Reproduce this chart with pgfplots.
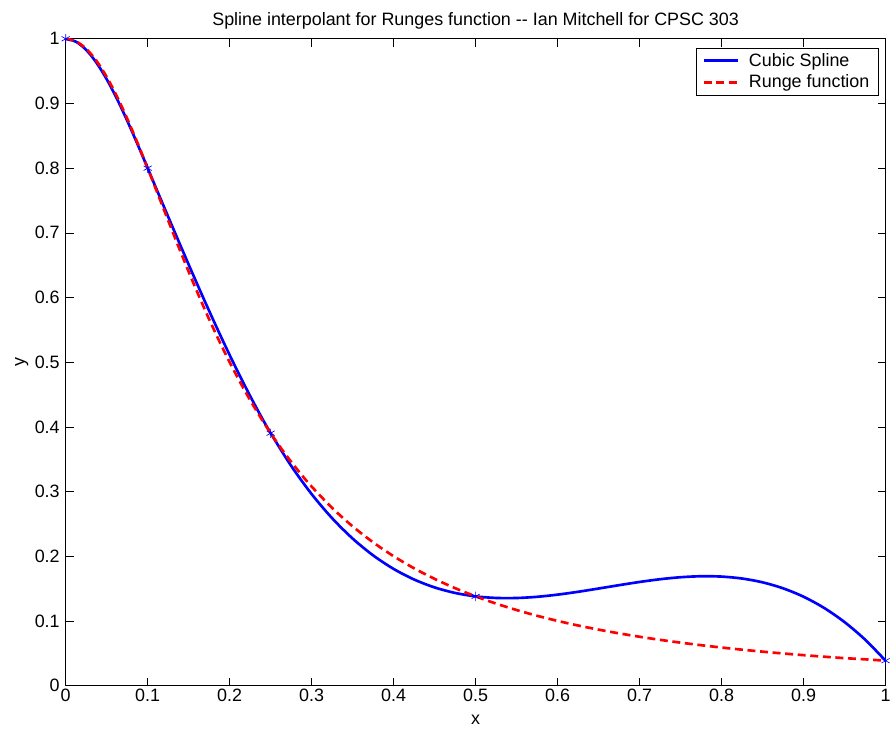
\documentclass[border=0pt]{standalone}
\usepackage{fontspec}
\setmainfont{Liberation Sans}
\usepackage{pgfplots}
\pgfplotsset{compat=1.18}

\pgfplotstableread{
x y
0 1
0.0125 0.99552
0.025 0.98285
0.0375 0.96315
0.05 0.93759
0.0625 0.90733
0.075 0.87353
0.0875 0.83737
0.1 0.8
0.1125 0.76242
0.125 0.72495
0.1375 0.68774
0.15 0.65095
0.1625 0.61474
0.175 0.57925
0.1875 0.54465
0.2 0.51108
0.2125 0.47870
0.225 0.44767
0.2375 0.41813
0.25 0.39024
0.275 0.33977
0.3 0.29608
0.325 0.25873
0.35 0.22729
0.375 0.20131
0.4 0.18035
0.425 0.16397
0.45 0.15174
0.475 0.14321
0.5 0.13793
0.525 0.13548
0.55 0.13540
0.575 0.13726
0.6 0.14062
0.625 0.14503
0.65 0.15007
0.675 0.15527
0.7 0.16022
0.725 0.16445
0.75 0.16754
0.775 0.16905
0.8 0.16852
0.825 0.16553
0.85 0.15963
0.875 0.15038
0.9 0.13734
0.925 0.12006
0.95 0.09812
0.975 0.07107
1 0.03846
}\splinedata

\pgfplotstableread{
x y
0 1
0.0125 0.99611
0.025 0.98462
0.0375 0.96604
0.05 0.94118
0.0625 0.91103
0.075 0.87671
0.0875 0.83934
0.1 0.8
0.1125 0.75964
0.125 0.71910
0.1375 0.67904
0.15 0.64
0.1625 0.60235
0.175 0.56637
0.1875 0.53223
0.2 0.5
0.2125 0.46972
0.225 0.44138
0.2375 0.41491
0.25 0.39024
0.2625 0.36729
0.275 0.34595
0.2875 0.32612
0.3 0.30769
0.325 0.27468
0.35 0.24615
0.375 0.22145
0.4 0.2
0.425 0.18130
0.45 0.16495
0.475 0.15059
0.5 0.13793
0.525 0.12673
0.55 0.11679
0.575 0.10793
0.6 0.1
0.625 0.09289
0.65 0.08649
0.675 0.08071
0.7 0.07547
0.725 0.07072
0.75 0.06639
0.775 0.06244
0.8 0.05882
0.825 0.05551
0.85 0.05246
0.875 0.04965
0.9 0.04706
0.925 0.04466
0.95 0.04244
0.975 0.04060
1 0.03846
}\rungedata

\pgfplotstableread{
x y
0 1
0.1 0.8
0.25 0.39024
0.5 0.13793
1 0.03846
}\knots

\begin{document}
\begin{tikzpicture}
\begin{axis}[
    name=ax,
    scale only axis,
    width=618pt, height=487.5pt,
    xmin=0, xmax=1, ymin=0, ymax=1,
    xtick={0,0.1,0.2,0.3,0.4,0.5,0.6,0.7,0.8,0.9,1},
    ytick={0,0.1,0.2,0.3,0.4,0.5,0.6,0.7,0.8,0.9,1},
    tick align=inside,
    major tick length=6pt,
    tick style={black, line width=0.5pt},
    axis line style={black, line width=0.5pt},
    /pgf/number format/assume math mode=true,
    font=\fontsize{13.5}{16}\selectfont,
    xticklabel style={yshift=1pt},
    yticklabel style={xshift=-1pt},
    title style={yshift=-2pt},
    title={Spline interpolant for Runges function -{}- Ian Mitchell for CPSC 303},
    xlabel={x}, ylabel={y},
    xlabel style={at={(axis description cs:0.5,0)}, anchor=north, inner sep=0pt, yshift=-22pt},
    ylabel style={yshift=-2pt},
    legend cell align=left,
    legend style={at={(1,1)}, anchor=north east, xshift=-5pt, yshift=-6.75pt,
        draw=black, inner xsep=5pt, inner ysep=2pt,
        row sep=1pt, font=\fontsize{13.5}{16}\selectfont,
        /tikz/every odd column/.append style={column sep=5pt}},
    legend image code/.code={\draw[#1] (0pt,0pt) -- (26pt,0pt);},
]
\addplot[blue, line width=0.5pt, only marks, mark=asterisk, mark size=3.5pt, forget plot] table {\knots};
\addplot[blue, line width=2pt, smooth] table {\splinedata};
\addplot[red, line width=2pt, dash pattern=on 6pt off 3.5pt, smooth] table {\rungedata};
\legend{Cubic Spline, Runge function}
\end{axis}
\path[use as bounding box] ([xshift=-49.5pt, yshift=-36.75pt]ax.south west) rectangle ([xshift=3.75pt, yshift=29.25pt]ax.north east);
\end{tikzpicture}
\end{document}
